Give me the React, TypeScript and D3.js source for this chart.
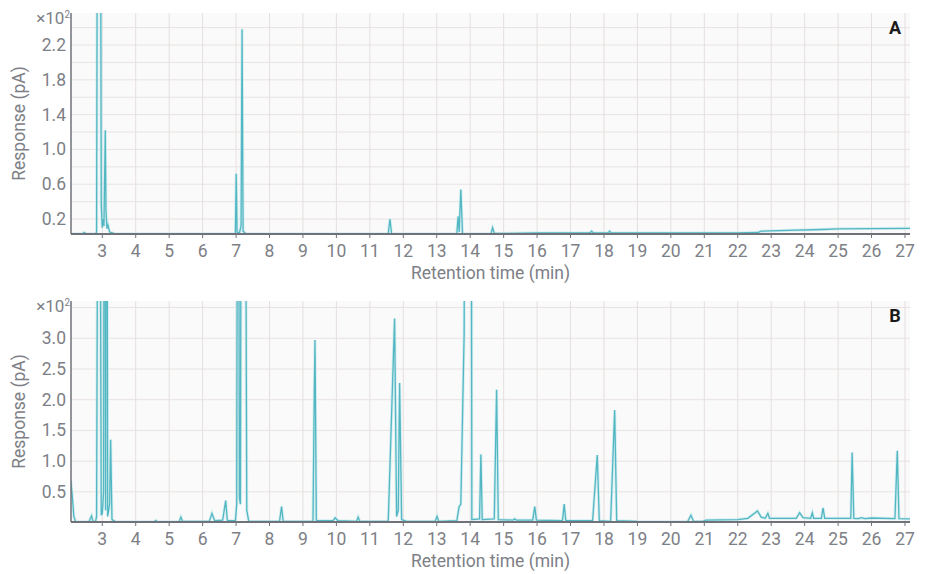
import React from "react";
import * as d3 from "d3";

// retention time ticks (min)
const xTicks = [3, 4, 5, 6, 7, 8, 9, 10, 11, 12, 13, 14, 15, 16, 17, 18, 19, 20, 21, 22, 23, 24, 25, 26, 27];

// panel A: gridlines every 0.2, labels every 0.4 (x10^2 pA)
const gridA = [0.2, 0.4, 0.6, 0.8, 1.0, 1.2, 1.4, 1.6, 1.8, 2.0, 2.2, 2.4];
const labelsA = [0.2, 0.6, 1.0, 1.4, 1.8, 2.2];
// panel B
const gridB = [0.5, 1.0, 1.5, 2.0, 2.5, 3.0, 3.5];
const labelsB = [0.5, 1.0, 1.5, 2.0, 2.5, 3.0];

// trace A: [time, response]
const traceA: [number, number][] = [
  [2.06, 0.03], [2.4, 0.03], [2.46, 0.045], [2.52, 0.03], [2.8, 0.03], [2.83, 0.05],
  [2.9, 12], [2.97, 0.36], [3.0, 0.1], [3.03, 0.2], [3.05, 0.12], [3.09, 1.22], [3.11, 0.3],
  [3.14, 0.09], [3.17, 0.13], [3.22, 0.05], [3.35, 0.035], [3.6, 0.03], [5.0, 0.03],
  [6.98, 0.03], [7.005, 0.72], [7.03, 0.05], [7.1, 0.04], [7.15, 0.12], [7.18, 2.38],
  [7.21, 0.06], [7.3, 0.03], [11.55, 0.03], [11.6, 0.2], [11.65, 0.03], [13.6, 0.03],
  [13.64, 0.23], [13.67, 0.05], [13.72, 0.54], [13.77, 0.035], [14.62, 0.03], [14.67, 0.1],
  [14.72, 0.035], [15.0, 0.035], [16.0, 0.04], [17.58, 0.04], [17.63, 0.06], [17.68, 0.04],
  [18.12, 0.04], [18.17, 0.06], [18.22, 0.04], [20.0, 0.04], [22.0, 0.04], [22.6, 0.045],
  [22.7, 0.06], [23.5, 0.07], [24.5, 0.08], [25.0, 0.087], [26.0, 0.09], [27.15, 0.093],
];

// trace B: [time, response]
const traceB: [number, number][] = [
  [2.06, 0.68], [2.1, 0.45], [2.15, 0.1], [2.2, 0.02], [2.6, 0.015], [2.68, 0.11], [2.72, 0.02],
  [2.8, 0.02], [2.83, 0.1], [2.9, 12], [2.97, 0.12], [3.0, 0.15], [3.04, 0.5], [3.07, 12],
  [3.1, 0.2], [3.13, 12], [3.16, 0.1], [3.22, 0.3], [3.25, 1.35], [3.29, 0.05], [3.4, 0.015],
  [4.55, 0.015], [4.6, 0.035], [4.65, 0.015], [5.3, 0.02], [5.35, 0.09], [5.4, 0.02],
  [6.2, 0.02], [6.28, 0.15], [6.36, 0.03], [6.6, 0.04], [6.69, 0.36], [6.74, 0.03],
  [6.98, 0.03], [7.02, 0.3], [7.06, 12], [7.1, 0.4], [7.13, 0.3], [7.17, 12], [7.25, 12],
  [7.32, 0.2], [7.38, 0.02], [8.3, 0.02], [8.36, 0.26], [8.41, 0.02], [9.3, 0.02],
  [9.34, 2.16], [9.36, 2.97], [9.4, 0.03], [9.9, 0.03], [9.96, 0.08], [10.05, 0.03],
  [10.6, 0.02], [10.65, 0.09], [10.7, 0.02], [11.55, 0.02], [11.74, 3.32], [11.8, 0.1],
  [11.85, 0.2], [11.89, 2.27], [11.95, 0.05], [12.1, 0.02], [12.95, 0.02], [13.01, 0.1],
  [13.06, 0.02], [13.6, 0.03], [13.67, 0.26], [13.72, 0.3], [13.82, 3.08], [13.86, 12],
  [14.02, 12], [14.05, 0.05], [14.28, 0.06], [14.32, 1.11], [14.36, 0.05], [14.72, 0.06],
  [14.79, 2.16], [14.84, 0.05], [15.28, 0.04], [15.33, 0.06], [15.38, 0.04], [15.87, 0.04],
  [15.93, 0.26], [15.98, 0.04], [16.76, 0.03], [16.81, 0.3], [16.86, 0.03], [17.66, 0.03],
  [17.8, 1.1], [17.86, 0.03], [18.2, 0.02], [18.32, 1.83], [18.38, 0.03], [19.0, 0.02],
  [20.5, 0.015], [20.6, 0.12], [20.68, 0.02], [20.95, 0.02], [21.05, 0.04], [22.0, 0.05],
  [22.3, 0.07], [22.59, 0.19], [22.7, 0.09], [22.82, 0.07], [22.9, 0.15], [22.95, 0.07],
  [23.75, 0.07], [23.85, 0.16], [23.95, 0.08], [24.18, 0.07], [24.23, 0.16], [24.27, 0.07],
  [24.5, 0.07], [24.55, 0.24], [24.6, 0.07], [25.38, 0.07], [25.42, 1.14], [25.47, 0.07],
  [25.6, 0.065], [25.7, 0.08], [25.8, 0.065], [26.0, 0.075], [26.7, 0.065], [26.77, 1.17],
  [26.82, 0.065], [27.15, 0.06],
];

const FONT = "Roboto, 'Noto Sans', sans-serif";
const GREY = "#7d8086";
const LINE = "#52b7c2";

type PanelProps = {
  id: string;
  data: [number, number][];
  top: number;
  bottom: number;
  yDomain: [number, number];
  grid: number[];
  labels: number[];
  letter: string;
};

const Panel = ({id, data, top, bottom, yDomain, grid, labels, letter}: PanelProps) => {
  const left = 71, right = 910;
  const x = d3.scaleLinear().domain([2.065, 27.15]).range([left, right]);
  const y = d3.scaleLinear().domain(yDomain).range([bottom, top]);
  const line = d3.line<[number, number]>().x(d => x(d[0])).y(d => y(d[1]));
  const path = line(data) || "";
  return (
    <g>
      <defs>
        <clipPath id={"clip" + id}>
          <rect x={left} y={top} width={right - left} height={bottom - top} />
        </clipPath>
      </defs>
      <rect x={left} y={top} width={right - left} height={bottom - top} fill="#fafafa" />
      {grid.map(v => (
        <line key={"h" + v} x1={left} x2={right} y1={y(v)} y2={y(v)} stroke="#e9e2e2" strokeWidth={1} />
      ))}
      {xTicks.map(t => (
        <line key={"v" + t} x1={x(t)} x2={x(t)} y1={top} y2={bottom} stroke="#e6dfdf" strokeWidth={1} />
      ))}
      <g clipPath={`url(#clip${id})`}>
        <path d={path} fill="none" stroke="#c4e8ec" strokeWidth={3} opacity={0.7} />
        <path d={path} fill="none" stroke={LINE} strokeWidth={1.3} />
      </g>
      <line x1={left} x2={left} y1={top} y2={bottom} stroke="#6f7279" strokeWidth={1.5} />
      <line x1={left} x2={right} y1={bottom} y2={bottom} stroke="#6f7279" strokeWidth={2} />
      {xTicks.map(t => (
        <g key={"xt" + t}>
          <line x1={x(t)} x2={x(t)} y1={bottom} y2={bottom + 4} stroke="#6f7279" strokeWidth={1} />
          <text x={x(t)} y={bottom + 22.5} textAnchor="middle" fontSize={17.5} fill={GREY} fontFamily={FONT}>{t}</text>
        </g>
      ))}
      {labels.map(v => (
        <text key={"yt" + v} x={66} y={y(v) + 6} textAnchor="end" fontSize={17.5} fill={GREY} fontFamily={FONT}>{v.toFixed(1)}</text>
      ))}
      <text x={70} y={top + 11} textAnchor="end" fontSize={17} fill={GREY} fontFamily={FONT}>
        ×10<tspan fontSize={10} dy={-6}>2</tspan>
      </text>
      <text x={895} y={top + 21} textAnchor="middle" fontSize={18} fontWeight="bold" fill="#1a1a1a" fontFamily={FONT}>{letter}</text>
      <text x={(left + right) / 2} y={bottom + 45} textAnchor="middle" fontSize={17.5} fill={GREY} fontFamily={FONT}>Retention time (min)</text>
      <text transform={`translate(25,${(top + bottom) / 2}) rotate(-90)`} textAnchor="middle" fontSize={17.5} fill={GREY} fontFamily={FONT}>Response (pA)</text>
    </g>
  );
};

export default function App() {
  return (
    <svg width={930} height={574} style={{position: "absolute", left: 0, top: 0, background: "#fff"}}>
      <Panel id="A" data={traceA} top={13} bottom={234} yDomain={[0.028, 2.568]} grid={gridA} labels={labelsA} letter="A" />
      <Panel id="B" data={traceB} top={301} bottom={522} yDomain={[0.01, 3.606]} grid={gridB} labels={labelsB} letter="B" />
    </svg>
  );
}
